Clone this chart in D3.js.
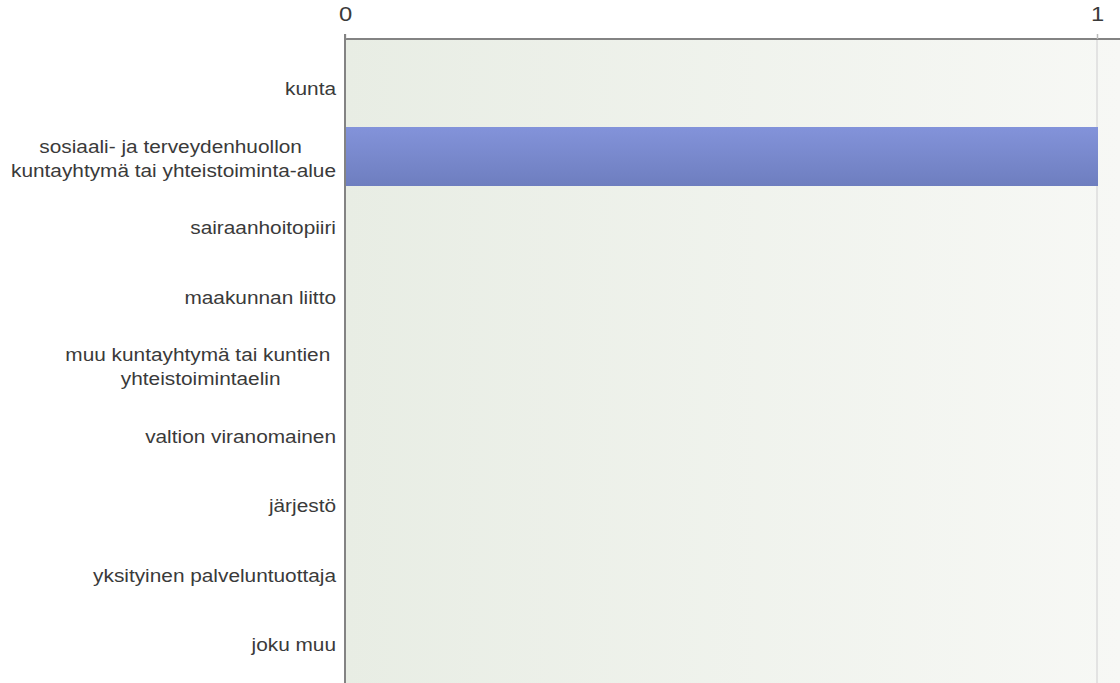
<!DOCTYPE html>
<html>
<head>
<meta charset="utf-8">
<script src="https://cdn.jsdelivr.net/npm/d3@7"></script>
<style>
  body { margin: 0; background: #fff; }
  svg { display: block; font-family: "Liberation Sans", Arial, sans-serif; }
</style>
</head>
<body>
<svg id="chart" width="1120" height="683"></svg>
<script>
// categories (multi-line labels split by \n, trailing spaces kept as in the original)
const categories = [
    "kunta",
    "sosiaali- ja terveydenhuollon \nkuntayhtymä tai yhteistoiminta-alue",
    "sairaanhoitopiiri",
    "maakunnan liitto",
    "muu kuntayhtymä tai kuntien \nyhteistoimintaelin",
    "valtion viranomainen",
    "järjestö",
    "yksityinen palveluntuottaja",
    "joku muu"
];
const values = [0, 1, 0, 0, 0, 0, 0, 0, 0];
const tickValues = [0, 1];

const svg = d3.select('#chart');
const W = 1120, H = 683;
const plot = {left: 344, top: 39, right: 1120, bottom: H};
// the original text is rendered a bit wider than Arial
const stretch = 1.19;

//gradients
const defs = svg.append('defs');
let bg = defs.append('linearGradient').attr('id', 'bgGrad')
    .attr('x1', 0).attr('x2', 1).attr('y1', 0).attr('y2', 0);
bg.append('stop').attr('offset', 0).attr('stop-color', '#e8ede4');
bg.append('stop').attr('offset', 1).attr('stop-color', '#f7f8f5');

let barGrad = defs.append('linearGradient').attr('id', 'barGrad')
    .attr('x1', 0).attr('x2', 0).attr('y1', 0).attr('y2', 1);
barGrad.append('stop').attr('offset', 0).attr('stop-color', '#8393da');
barGrad.append('stop').attr('offset', 1).attr('stop-color', '#6e7ebf');

let x = d3.scaleLinear()
    .domain([0, 1])
    .range([plot.left + 1, 1097]);

let y = d3.scaleBand()
    .domain(categories)
    .range([54.25, 54.25 + 9 * 69.5])
    .paddingInner(0.151)
    .paddingOuter(0.0755);

// plot background
svg.append('rect')
    .attr('x', plot.left).attr('y', plot.top)
    .attr('width', plot.right - plot.left)
    .attr('height', plot.bottom - plot.top)
    .attr('fill', 'url(#bgGrad)');

// grid lines (skip zero, the axis line covers it)
svg.selectAll('line.grid')
    .data(tickValues.filter(d => d !== 0)).enter()
    .append('line')
    .attr('class', 'grid')
    .attr('x1', d => x(d)).attr('x2', d => x(d))
    .attr('y1', plot.top).attr('y2', plot.bottom)
    .attr('stroke', '#dcdcdc')
    .attr('stroke-width', 1.5);

// bars (sit ~2px above band centre like the original)
svg.selectAll('rect.bar')
    .data(values.map((v, i) => ({key: categories[i], value: v}))).enter()
    .append('rect')
    .attr('class', 'bar')
    .filter(d => d.value > 0)
    .attr('x', x(0))
    .attr('y', d => y(d.key) - 2)
    .attr('width', d => x(d.value) - x(0) + 1)
    .attr('height', y.bandwidth())
    .attr('fill', 'url(#barGrad)');

// top axis
let axis = d3.axisTop(x)
    .tickValues(tickValues)
    .tickFormat(d3.format('d'))
    .tickSize(5)
    .tickPadding(13);

let gAxis = svg.append('g')
    .attr('transform', `translate(0,${plot.top})`)
    .call(axis);
gAxis.select('.domain')
    .attr('d', `M${plot.left},0H${plot.right}`)
    .attr('stroke', '#838383')
    .attr('stroke-width', 2);
gAxis.selectAll('.tick line').attr('stroke', '#bbbbbb').attr('stroke-width', 1.5);
gAxis.selectAll('.tick text')
    .attr('font-size', 20)
    .attr('fill', '#3a3a3a')
    .attr('font-family', '"Liberation Sans", Arial, sans-serif')
    .attr('transform', `scale(${stretch},1)`)
    .attr('dy', 0);

// left axis line
svg.append('line')
    .attr('x1', plot.left + 1).attr('x2', plot.left + 1)
    .attr('y1', plot.top - 5).attr('y2', plot.bottom)
    .attr('stroke', '#838383')
    .attr('stroke-width', 2);

// category labels
const labelRight = 336;
const lineH = 24;
categories.forEach(c => {
    let lines = c.split('\n');
    let cy = y(c) + y.bandwidth() / 2;
    let g = svg.append('g')
        .attr('transform', `translate(${labelRight},${cy}) scale(${stretch},1)`);
    let t = g.append('text')
        .attr('font-size', 17.5)
        .attr('fill', '#3a3a3a')
        .style('white-space', 'pre');
    let spans = t.selectAll('tspan').data(lines).enter()
        .append('tspan')
        .attr('y', (d, i) => (i - (lines.length - 1) / 2) * lineH)
        .attr('dy', '0.35em')
        .text(d => d);
    if (lines.length === 1) {
        t.attr('text-anchor', 'end');
        spans.attr('x', 0);
    } else {
        let maxW = d3.max(spans.nodes(), n => n.getComputedTextLength());
        t.attr('text-anchor', 'middle');
        spans.attr('x', -maxW / 2);
    }
});
</script>
</body>
</html>
